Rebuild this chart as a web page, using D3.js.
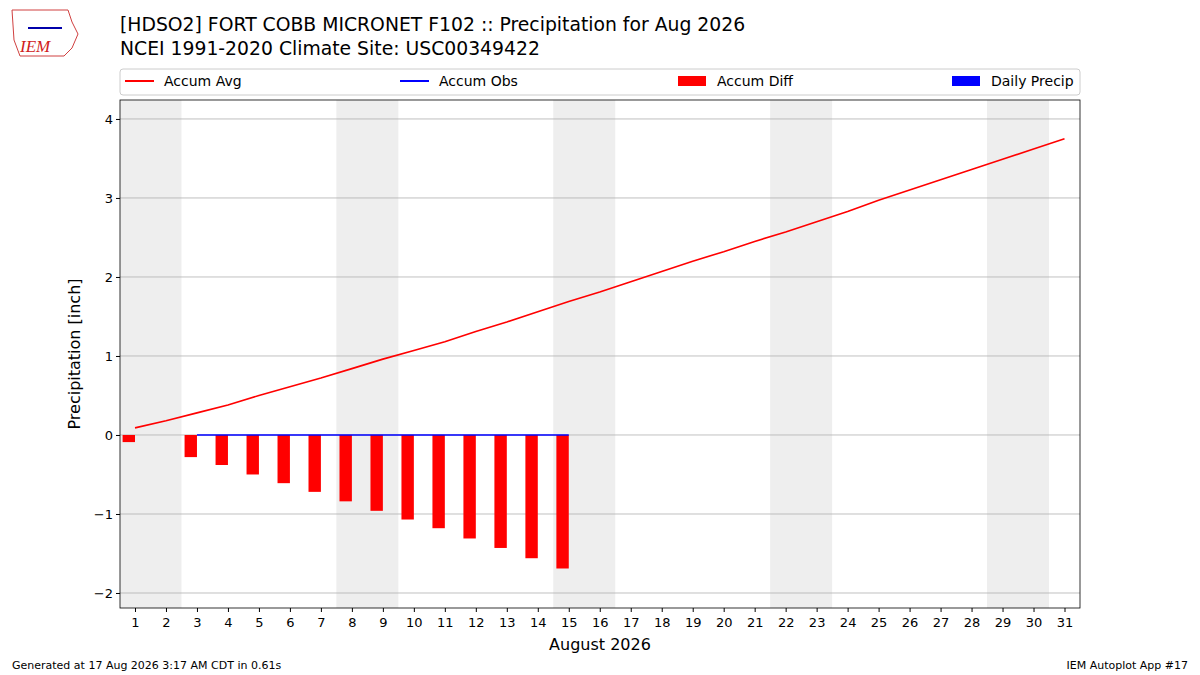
<!DOCTYPE html>
<html><head><meta charset="utf-8">
<script src="https://cdn.jsdelivr.net/npm/d3@7"></script>
<style>body{margin:0;background:#fff;font-family:"DejaVu Sans",sans-serif}</style>
</head><body><svg id="c" width="1200" height="675"></svg>
<script>
const days = d3.range(1,32);
const accumAvg = [0.09,0.18,0.28,0.38,0.50,0.61,0.72,0.84,0.96,1.07,1.18,1.31,1.43,1.56,1.69,1.81,1.94,2.07,2.20,2.32,2.45,2.57,2.70,2.83,2.97,3.10,3.23,3.36,3.49,3.62,3.75];
const obsDays = [3,15];
const obsVals = [0,0];
const diffDays = [1,3,4,5,6,7,8,9,10,11,12,13,14,15];
const diffVals = [-0.09,-0.28,-0.38,-0.50,-0.61,-0.72,-0.84,-0.96,-1.07,-1.18,-1.31,-1.43,-1.56,-1.69];
const weekendStarts = [1,8,15,22,29];
const yTicks = [-2,-1,0,1,2,3,4];

const svg = d3.select("#c");
const L=120,R=1080,T=100,B=608;
const x = d3.scaleLinear().domain([0.516,31.5]).range([L,R]);
const y = d3.scaleLinear().domain([-2.19,4.24]).range([B,T]);
const g = svg.append("g");
weekendStarts.forEach(s=>{
  const x0=Math.max(L,x(s-0.5)), x1=x(s+1.5);
  g.append("rect").attr("x",x0).attr("y",T).attr("width",x1-x0).attr("height",B-T).attr("fill","#eeeeee");
});
yTicks.forEach(t=>g.append("line").attr("x1",L).attr("x2",R).attr("y1",y(t)).attr("y2",y(t)).attr("stroke","#b0b0b0").attr("stroke-width",0.8));
g.selectAll(".bar").data(diffDays).enter().append("rect")
 .attr("x",d=>x(d-0.4)).attr("width",x(1.4)-x(1)).attr("y",y(0)).attr("height",(d,i)=>y(diffVals[i])-y(0)).attr("fill","#ff0000");
g.append("path").datum(days).attr("d",d3.line().x(d=>x(d)).y((d,i)=>y(accumAvg[i]))).attr("fill","none").attr("stroke","#ff0000").attr("stroke-width",1.6);
g.append("path").datum(obsDays).attr("d",d3.line().x(d=>x(d)).y((d,i)=>y(obsVals[i]))).attr("fill","none").attr("stroke","#0000ff").attr("stroke-width",1.6);
svg.append("rect").attr("x",L).attr("y",T).attr("width",R-L).attr("height",B-T).attr("fill","none").attr("stroke","#000").attr("stroke-width",0.8);
const xa = svg.append("g").attr("transform",`translate(0,${B})`).call(d3.axisBottom(x).tickValues(days).tickFormat(d3.format("d")).tickSizeOuter(0).tickSize(4));
const ya = svg.append("g").attr("transform",`translate(${L},0)`).call(d3.axisLeft(y).tickValues(yTicks).tickFormat(d=>d<0?"\u2212"+(-d):d).tickSizeOuter(0).tickSize(4));
[xa,ya].forEach(a=>{a.select(".domain").remove();a.selectAll("text").attr("font-size",13).attr("font-family","DejaVu Sans").attr("fill","#000");});
xa.selectAll("text").attr("dy","0.9em");
svg.append("text").attr("x",600).attr("y",650).attr("text-anchor","middle").attr("font-size",16).text("August 2026");
svg.append("text").attr("transform","translate(80,354) rotate(-90)").attr("text-anchor","middle").attr("font-size",16).text("Precipitation [inch]");
svg.append("text").attr("x",120).attr("y",31).attr("font-size",18.8).text("[HDSO2] FORT COBB MICRONET F102 :: Precipitation for Aug 2026");
svg.append("text").attr("x",120).attr("y",55).attr("font-size",18.8).text("NCEI 1991-2020 Climate Site: USC00349422");
svg.append("rect").attr("x",120).attr("y",69).attr("width",960).attr("height",26).attr("rx",3).attr("fill","#fff").attr("stroke","#ccc");
const leg=[["Accum Avg","line","#ff0000",125],["Accum Obs","line","#0000ff",400],["Accum Diff","rect","#ff0000",678],["Daily Precip","rect","#0000ff",952]];
leg.forEach(([t,k,c,lx])=>{
  if(k==="line") svg.append("line").attr("x1",lx).attr("x2",lx+29).attr("y1",81).attr("y2",81).attr("stroke",c).attr("stroke-width",2);
  else svg.append("rect").attr("x",lx).attr("y",76).attr("width",28).attr("height",10).attr("fill",c);
  svg.append("text").attr("x",lx+39).attr("y",86).attr("font-size",14).text(t);
});
svg.append("text").attr("x",12).attr("y",669).attr("font-size",11).text("Generated at 17 Aug 2026 3:17 AM CDT in 0.61s");
svg.append("text").attr("x",1188).attr("y",669).attr("text-anchor","end").attr("font-size",11).text("IEM Autoplot App #17");
const lg=svg.append("g");
lg.append("path").attr("d","M12,10 L68,10 L72,22 L78,34 L72,48 L64,56 L20,56 L14,40 Z").attr("fill","none").attr("stroke","#d04040").attr("stroke-width",1);
lg.append("line").attr("x1",28).attr("x2",62).attr("y1",28).attr("y2",28).attr("stroke","#0000aa").attr("stroke-width",2);
lg.append("text").attr("x",20).attr("y",52).attr("font-size",17).attr("font-style","italic").attr("font-family","Liberation Serif").attr("fill","#d02020").text("IEM");
</script></body></html>
